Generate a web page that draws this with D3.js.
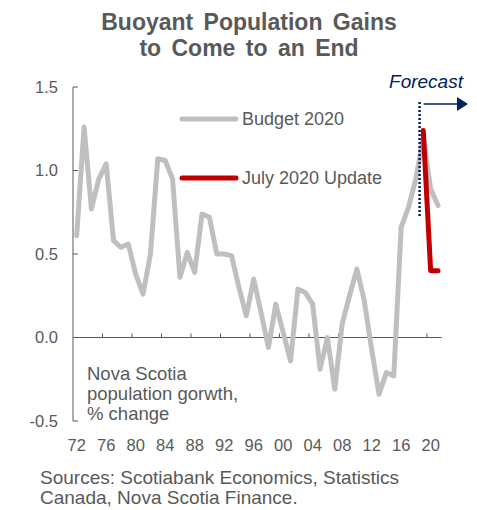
<!DOCTYPE html>
<html>
<head>
<meta charset="utf-8">
<script src="https://cdn.jsdelivr.net/npm/d3@7"></script>
<style>
  html, body { margin: 0; padding: 0; background: #fff; }
  svg { display: block; font-family: "Liberation Sans", Arial, sans-serif; }
</style>
</head>
<body>
<svg id="chart" width="477" height="510"></svg>
<script>
// ---- data ----
const years = d3.range(1972, 2022);
const budget2020 = [
  0.61, 1.26, 0.77, 0.95, 1.04, 0.58, 0.54, 0.56, 0.38, 0.26,
  0.50, 1.07, 1.06, 0.95, 0.36, 0.51, 0.39, 0.74, 0.72, 0.50,
  0.50, 0.49, 0.30, 0.13, 0.35, 0.15, -0.06, 0.20, 0.03, -0.14,
  0.29, 0.27, 0.20, -0.19, 0.00, -0.31, 0.08, 0.25, 0.41, 0.22,
  -0.07, -0.34, -0.21, -0.23, 0.66, 0.78, 0.95, 1.20, 0.89, 0.79
];
const julyYears = [2019, 2020, 2021];
const july2020 = [1.24, 0.40, 0.40];
const yTicks = [-0.5, 0.0, 0.5, 1.0, 1.5];
const xLabelYears = d3.range(1972, 2021, 4);           // 72 ... 20
const xTickYears = d3.range(1975.5, 2020, 4);          // tick marks between categories
const forecastStart = 2018.5;
const seriesNames = ["Budget 2020", "July 2020 Update"];
const colors = ["#BFBFBF", "#C00000"];
const navy = "#002060";
const textColor = "#595959";

const svg = d3.select("#chart");

const x = d3.scaleLinear().domain([1971.5, 2021.5]).range([73, 441.7]);
const y = d3.scaleLinear().domain([-0.5, 1.5]).range([421, 87]);
const fmt = d3.formatLocale({decimal: ".", thousands: ",", grouping: [3], currency: ["", ""], minus: "-"}).format(".1f");

// title
const title = svg.append("text")
  .attr("x", 249).attr("text-anchor", "middle")
  .attr("fill", textColor).attr("font-weight", "bold")
  .attr("font-size", 23).attr("word-spacing", 4);
title.append("tspan").attr("x", 249).attr("y", 30).text("Buoyant Population Gains");
title.append("tspan").attr("x", 249).attr("y", 56).text("to Come to an End");

// y axis line
svg.append("line")
  .attr("x1", x(1971.5)).attr("x2", x(1971.5))
  .attr("y1", y(1.5)).attr("y2", y(-0.5))
  .attr("stroke", textColor).attr("stroke-width", 1);
// y ticks (pointing right) & labels
svg.selectAll(".ytick").data(yTicks).enter().append("line")
  .attr("x1", x(1971.5)).attr("x2", x(1971.5) + 5)
  .attr("y1", d => y(d)).attr("y2", d => y(d))
  .attr("stroke", textColor).attr("stroke-width", 1);
svg.selectAll(".ylab").data(yTicks).enter().append("text")
  .attr("x", 58).attr("y", d => y(d)).attr("dy", "0.35em")
  .attr("text-anchor", "end").attr("font-size", 16.5).attr("fill", textColor)
  .text(d => fmt(d));

// x axis at zero
svg.append("line")
  .attr("x1", x(1971.5)).attr("x2", x(2021.5))
  .attr("y1", y(0)).attr("y2", y(0))
  .attr("stroke", textColor).attr("stroke-width", 1);
svg.selectAll(".xtick").data(xTickYears).enter().append("line")
  .attr("x1", d => x(d)).attr("x2", d => x(d))
  .attr("y1", y(0)).attr("y2", y(0) - 4)
  .attr("stroke", textColor).attr("stroke-width", 1);
svg.selectAll(".xlab").data(xLabelYears).enter().append("text")
  .attr("x", d => x(d)).attr("y", 451)
  .attr("text-anchor", "middle").attr("font-size", 16.5).attr("fill", textColor)
  .text(d => String(d).slice(2));

// lines
const line = d3.line().x(d => x(d[0])).y(d => y(d[1])).curve(d3.curveLinear);
svg.append("path")
  .datum(years.map((yr, i) => [yr, budget2020[i]]))
  .attr("d", line).attr("fill", "none")
  .attr("stroke", colors[0]).attr("stroke-width", 5)
  .attr("stroke-linejoin", "round").attr("stroke-linecap", "round");

// forecast marker
svg.append("line")
  .attr("x1", x(forecastStart)).attr("x2", x(forecastStart))
  .attr("y1", 102).attr("y2", 218)
  .attr("stroke", navy).attr("stroke-width", 2.5).attr("stroke-dasharray", "2,2");
svg.append("line")
  .attr("x1", x(forecastStart) + 4).attr("x2", 458)
  .attr("y1", 104).attr("y2", 104)
  .attr("stroke", navy).attr("stroke-width", 1.5);
svg.append("path")
  .attr("d", `M457,97 L468,104 L457,111 Z`)
  .attr("fill", navy);
svg.append("text")
  .attr("x", 426).attr("y", 88).attr("text-anchor", "middle")
  .attr("font-size", 19).attr("font-style", "italic").attr("fill", navy)
  .text("Forecast");

svg.append("path")
  .datum(julyYears.map((yr, i) => [yr, july2020[i]]))
  .attr("d", line).attr("fill", "none")
  .attr("stroke", colors[1]).attr("stroke-width", 5)
  .attr("stroke-linejoin", "round").attr("stroke-linecap", "round");

// legend
const legend = svg.selectAll(".leg").data(seriesNames).enter().append("g")
  .attr("transform", (d, i) => `translate(182, ${119 + i * 59})`);
legend.append("line")
  .attr("x1", 0).attr("x2", 54).attr("y1", 0).attr("y2", 0)
  .attr("stroke", (d, i) => colors[i]).attr("stroke-width", 5)
  .attr("stroke-linecap", "round");
legend.append("text")
  .attr("x", 60).attr("y", 0).attr("dy", "0.35em")
  .attr("font-size", 18).attr("fill", textColor)
  .text(d => d);

// annotation
const ann = svg.append("text").attr("font-size", 18.5).attr("fill", textColor);
["Nova Scotia", "population gorwth,", "% change"].forEach((t, i) => {
  ann.append("tspan").attr("x", 87).attr("y", 380 + i * 20).text(t);
});

// sources
const src = svg.append("text").attr("font-size", 19).attr("fill", textColor);
["Sources: Scotiabank Economics, Statistics", "Canada, Nova Scotia Finance."].forEach((t, i) => {
  src.append("tspan").attr("x", 40).attr("y", 484 + i * 20).text(t);
});
</script>
</body>
</html>
